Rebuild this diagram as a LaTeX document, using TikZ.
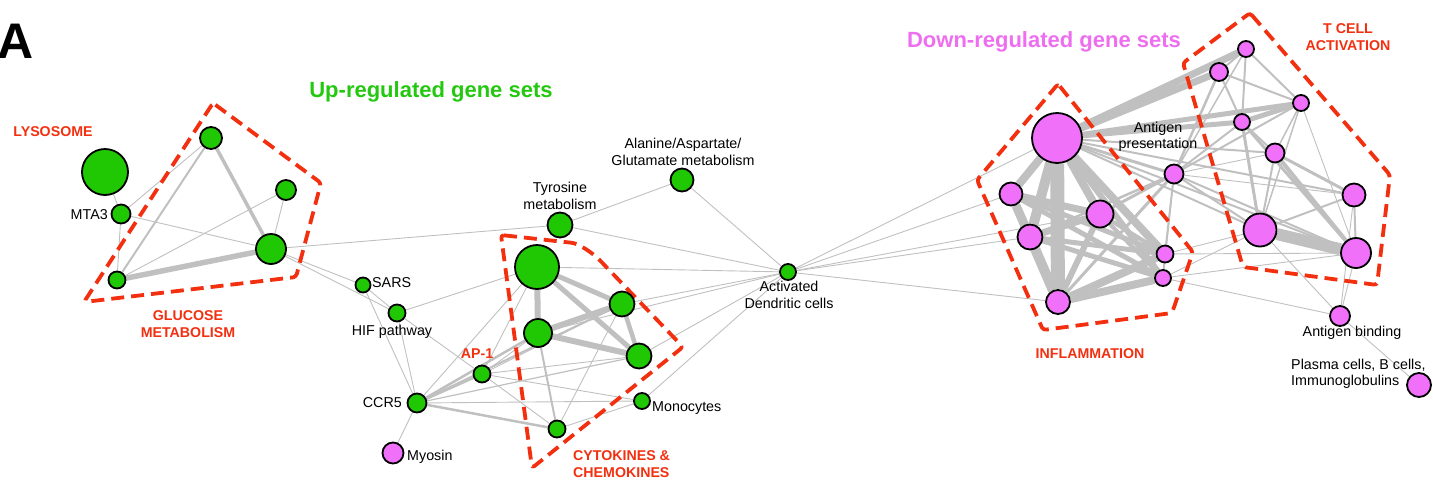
\documentclass[tikz,border=0pt]{standalone}
\usepackage{fontspec}
\setmainfont{Liberation Sans}
\definecolor{upgreen}{RGB}{32,200,4}
\definecolor{dnpink}{RGB}{240,112,250}
\definecolor{uptitle}{RGB}{36,200,16}
\definecolor{dntitle}{RGB}{238,110,240}
\definecolor{hullred}{RGB}{242,48,16}
\definecolor{edgegray}{RGB}{192,192,192}
\pgfdeclarelayer{edges}
\pgfdeclarelayer{hulls}
\pgfsetlayers{edges,hulls,main}
\tikzset{
  gnode/.style={circle, draw=black, line width=1.8pt, fill=upgreen, inner sep=0pt, minimum size=#1},
  pnode/.style={circle, draw=black, line width=1.8pt, fill=dnpink, inner sep=0pt, minimum size=#1},
  hull/.style={draw=hullred, line width=3.8pt, dash pattern=on 13pt off 7pt, line join=round},
  lbl/.style={font=\fontsize{14.3}{16.5}\selectfont, inner sep=0pt, text=black},
  grp/.style={font=\bfseries\fontsize{14.2}{16.8}\selectfont, inner sep=0pt, text=hullred},
  ttl/.style={font=\bfseries\fontsize{22}{24}\selectfont, inner sep=0pt},
}
\begin{document}
\begin{tikzpicture}[x=1pt,y=-1pt]
\useasboundingbox (0,0) rectangle (1433,480);

% ---------- up-regulated nodes ----------
\node[gnode=46] (lys) at (105,172) {};
\node[gnode=19] (mta) at (121,214) {};
\node[gnode=22] (ga) at (211,138) {};
\node[gnode=20] (gb) at (286,190) {};
\node[gnode=30] (gc) at (271,249) {};
\node[gnode=17] (gd) at (117,280) {};

\node[gnode=15] (sars) at (363,285) {};
\node[gnode=17] (hif) at (397,313) {};
\node[gnode=17] (ap) at (482,374) {};
\node[gnode=19] (ccr) at (417,403) {};
\node[pnode=21] (myo) at (393,453) {};
\node[gnode=25] (tyr) at (560,225) {};
\node[gnode=23] (ala) at (682,180) {};
\node[gnode=44] (ca) at (537,267) {};
\node[gnode=25] (cb) at (622,304) {};
\node[gnode=28] (cc) at (538,333) {};
\node[gnode=25] (cd) at (639,356) {};
\node[gnode=16] (mono) at (642,401) {};
\node[gnode=17] (ce) at (557,429) {};
\node[gnode=16] (adc) at (788,272) {};

% ---------- down-regulated nodes ----------
\node[pnode=50] (pa) at (1057,138) {};
\node[pnode=23] (pb) at (1011,194) {};
\node[pnode=27] (pc) at (1100,214) {};
\node[pnode=25] (pd) at (1030,237) {};
\node[pnode=24] (pe) at (1058,302) {};
\node[pnode=17] (pf) at (1165,254) {};
\node[pnode=16] (pg) at (1163,278) {};
\node[pnode=19] (agp) at (1174,174) {};
\node[pnode=16] (ta) at (1246,49) {};
\node[pnode=18] (tb) at (1219,72) {};
\node[pnode=16] (tc) at (1301,103) {};
\node[pnode=16] (td) at (1242,122) {};
\node[pnode=19] (te) at (1275,153) {};
\node[pnode=33] (tf) at (1260,230) {};
\node[pnode=23] (tg) at (1354,195) {};
\node[pnode=30] (th) at (1356,253) {};
\node[pnode=20] (agb) at (1340,316) {};
\node[pnode=24] (pla) at (1419,385) {};

% ---------- connectors ----------
\begin{pgfonlayer}{edges}
\foreach \w/\a/\b in {
  0.9/lys/mta, 0.9/mta/ga, 0.9/mta/gd, 0.9/mta/gc, 0.9/gd/gb, 0.9/gb/gc,
  0.9/gc/tyr, 0.9/gc/sars, 0.9/gc/hif, 2/ga/gd, 3.5/ga/gc, 5.5/gd/gc,
  0.9/sars/hif, 0.9/sars/ccr, 0.9/hif/ccr, 0.9/hif/ca, 0.9/hif/ap, 0.9/ccr/myo,
  0.9/ccr/ca, 0.9/ccr/mono, 1.2/ccr/cd, 2/ccr/cb, 2.5/ccr/ce, 2.5/ccr/ap, 2.5/ccr/cc,
  0.9/ap/ca, 0.9/ap/cb, 0.9/ap/cd, 0.9/ap/mono, 0.9/ap/ce, 0.9/ap/cc,
  0.9/cb/ce, 0.9/ce/mono, 2/cc/ce,
  5/ca/cb, 5/ca/cd, 4.5/cb/cd, 6/ca/cc, 6/cc/cb, 6/cc/cd,
  0.9/tyr/ala, 0.9/tyr/adc, 0.9/ala/adc, 0.9/ca/adc, 0.9/cb/adc, 0.9/cc/adc,
  0.9/cd/adc, 0.9/mono/adc,
  0.9/adc/pa, 0.9/adc/pb, 0.9/adc/pc, 0.9/adc/pd, 0.9/adc/pe,
  14/pa/pe, 10/pa/pd, 8/pa/pb, 8/pa/pc, 8/pa/pf, 6/pa/pg,
  9/pb/pe, 6/pb/pd, 7/pb/pc, 5/pb/pf, 5/pb/pg,
  10/pd/pe, 7/pd/pc, 5/pd/pf, 5/pd/pg,
  6/pc/pe, 4/pc/pf, 4/pc/pg, 8/pe/pf, 8/pe/pg, 2/pf/pg,
  7/pa/ta, 7/pa/tb, 5/pa/tc, 5/pa/td, 3/pa/agp, 2/pa/te, 2/pa/tg, 2/pa/tf, 2/pa/th,
  2.5/agp/tb, 1.5/agp/ta, 2/agp/tc, 2/agp/td, 0.9/agp/te, 0.9/agp/tg, 2/agp/tf,
  2/agp/th, 2/agp/pf, 1.2/agp/pg, 3/agp/pc, 3/agp/pe, 2.5/agp/pd,
  2/ta/tb, 2/ta/td, 2/ta/tc, 2/tb/td, 2/tb/tc, 5/tc/td, 1.5/tc/te, 1.5/tc/tf,
  0.9/tc/th, 2/td/te, 3/td/tf, 3/td/th, 2/te/tf, 4/te/th, 3/te/tg, 12/tf/th,
  2/tf/tg, 2/tg/th, 0.9/tf/pf, 0.9/tf/pg, 0.9/th/pf, 0.9/th/pg,
  0.9/tf/agb, 0.9/th/agb, 0.9/tg/agb, 0.9/pg/agb, 0.9/agb/pla}
  \draw[edgegray, line width=\w pt] (\a) -- (\b);
\end{pgfonlayer}

% ---------- group outlines ----------
\begin{pgfonlayer}{hulls}
\draw[hull, rounded corners=3pt] (213,103) -- (321,183) -- (296,277) -- (84,302) -- cycle;
\draw[hull, rounded corners=3pt] (501,235) -- (574,243) [rounded corners=14pt] -- (590,250) [rounded corners=3pt] -- (683,347) -- (532,468) -- cycle;
\draw[hull, rounded corners=3pt] (1058,84) -- (1193,252) -- (1172,313) -- (1043,330) -- (977,180) -- cycle;
\draw[hull, rounded corners=3pt] (1250,13) -- (1390,175) -- (1377,285) -- (1243,267) -- (1183,63) -- cycle;
\end{pgfonlayer}

% ---------- titles ----------
\node[font=\bfseries\fontsize{50}{50}\selectfont, inner sep=0pt, anchor=west] (panel) at (-3,41) {A};
\node[ttl, text=uptitle] (uptxt) at (431,92) {Up-regulated gene sets};
\node[ttl, text=dntitle] (dntxt) at (1044,42) {Down-regulated gene sets};

% ---------- group labels ----------
\node[grp] (lyslbl) at (53,132) {LYSOSOME};
\node[grp, align=center] (glclbl) at (188,324) {GLUCOSE\\METABOLISM};
\node[grp] (aplbl) at (477,354) {AP-1};
\node[grp, align=left, anchor=west] (cytlbl) at (573,464) {CYTOKINES \&\\CHEMOKINES};
\node[grp] (inflbl) at (1090,354) {INFLAMMATION};
\node[grp, align=center] (tcllbl) at (1348,37) {T CELL\\ACTIVATION};

% ---------- gene set labels ----------
\node[lbl, anchor=east] (mtalbl) at (108,215) {MTA3};
\node[lbl, anchor=west] (sarslbl) at (372,283) {SARS};
\node[lbl] (hiflbl) at (392,332) {HIF pathway};
\node[lbl, anchor=east] (ccrlbl) at (402,403) {CCR5};
\node[lbl, anchor=west] (myolbl) at (407,457) {Myosin};
\node[lbl, anchor=west] (monolbl) at (652,408) {Monocytes};
\node[lbl, align=center] (tyrlbl) at (560,196) {Tyrosine\\metabolism};
\node[lbl, align=center] (alalbl) at (683,152) {Alanine/Aspartate/\\Glutamate metabolism};
\node[lbl, align=center] (adclbl) at (789,295) {Activated\\Dendritic cells};
\node[lbl, align=center] (agplbl) at (1158,137) {Antigen\\presentation};
\node[lbl] (agblbl) at (1352,333) {Antigen binding};
\node[lbl, align=left, anchor=west] (plalbl) at (1291,374) {Plasma cells, B cells,\\Immunoglobulins};
\end{tikzpicture}
\end{document}
